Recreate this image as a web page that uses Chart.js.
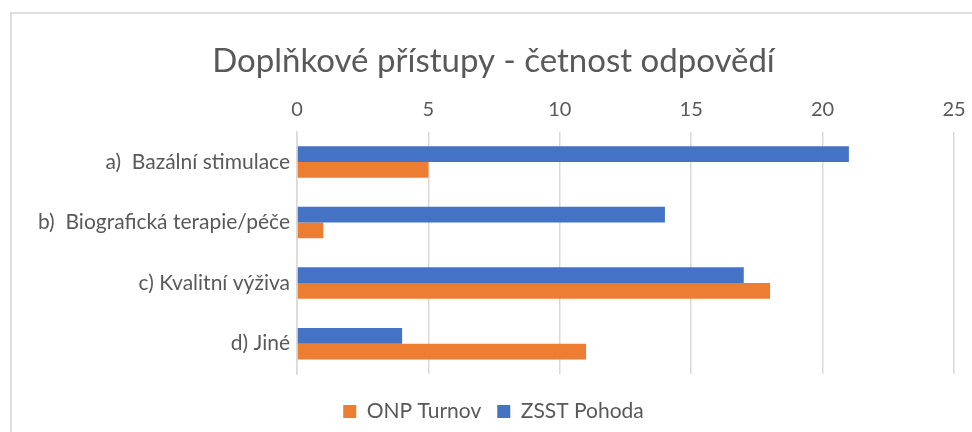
<!DOCTYPE html>
<html>
<head>
<meta charset="utf-8">
<script src="https://cdn.jsdelivr.net/npm/chart.js@4"></script>
<style>
  html, body { margin: 0; padding: 0; background: #fff; overflow: hidden; }
  #wrap { position: relative; width: 972px; height: 432px; }
  #frame { position: absolute; left: 10px; top: 12px; width: 1000px; height: 500px;
           border: 2px solid #dedede; box-sizing: border-box; }
  #chart { position: absolute; left: 0; top: 0; }
</style>
</head>
<body>
<div id="wrap">
  <div id="frame"></div>
  <canvas id="chart" width="972" height="432"></canvas>
</div>
<script>
// ==================== DATA ====================
const categories = [
  'a)  Bazální stimulace',
  'b)  Biografická terapie/péče',
  'c) Kvalitní výživa',
  'd) Jiné'
];
const zsstPohoda = [21, 14, 17, 4];
const onpTurnov = [5, 1, 18, 11];
const xTicks = [0, 5, 10, 15, 20, 25];

const textColor = '#595959';
const fontFamily = 'Lato, "Open Sans", sans-serif';

// ==================== CHART ====================
new Chart(document.getElementById('chart'), {
  type: 'bar',
  data: {
    labels: categories,
    datasets: [
      {
        label: 'ZSST Pohoda',
        data: zsstPohoda,
        backgroundColor: '#4472C4',
        categoryPercentage: 0.52,
        barPercentage: 1
      },
      {
        label: 'ONP Turnov',
        data: onpTurnov,
        backgroundColor: '#ED7D31',
        categoryPercentage: 0.52,
        barPercentage: 1
      }
    ]
  },
  options: {
    indexAxis: 'y',
    responsive: false,
    animation: false,
    layout: { padding: { left: 20, right: 5, top: 0, bottom: 0 } },
    plugins: {
      title: {
        display: true,
        text: 'Doplňkové přístupy - četnost odpovědí',
        color: textColor,
        font: { family: fontFamily, size: 33, weight: 'normal' },
        padding: { top: 42, bottom: 10 }
      },
      legend: {
        position: 'bottom',
        reverse: true,
        labels: {
          color: textColor,
          font: { family: fontFamily, size: 21 },
          boxWidth: 13,
          boxHeight: 13,
          padding: 16
        }
      },
      tooltip: { enabled: false }
    },
    scales: {
      x: {
        position: 'top',
        min: 0,
        max: 25,
        afterBuildTicks: (scale) => { scale.ticks = xTicks.map(v => ({ value: v })); },
        afterFit: (scale) => {
          scale.height = 40;
          scale.paddingLeft = 0;
          scale.paddingRight = 18;
        },
        ticks: {
          color: textColor,
          font: { family: fontFamily, size: 20 },
          padding: 10
        },
        grid: { color: '#d9d9d9', lineWidth: 1.5, drawTicks: false },
        border: { display: false }
      },
      // empty strip between plot and legend
      gap: {
        type: 'linear',
        axis: 'x',
        position: 'bottom',
        afterFit: (scale) => {
          scale.height = 11;
          scale.paddingLeft = 0;
          scale.paddingRight = 0;
        },
        ticks: { display: false },
        grid: { display: false, drawTicks: false },
        border: { display: false }
      },
      y: {
        afterFit: (scale) => { scale.width = 277; },
        ticks: {
          color: textColor,
          font: { family: fontFamily, size: 21 },
          padding: 7
        },
        grid: { display: false, drawTicks: false },
        border: { display: true, color: '#d9d9d9', width: 1.5 }
      }
    }
  }
});
</script>
</body>
</html>
